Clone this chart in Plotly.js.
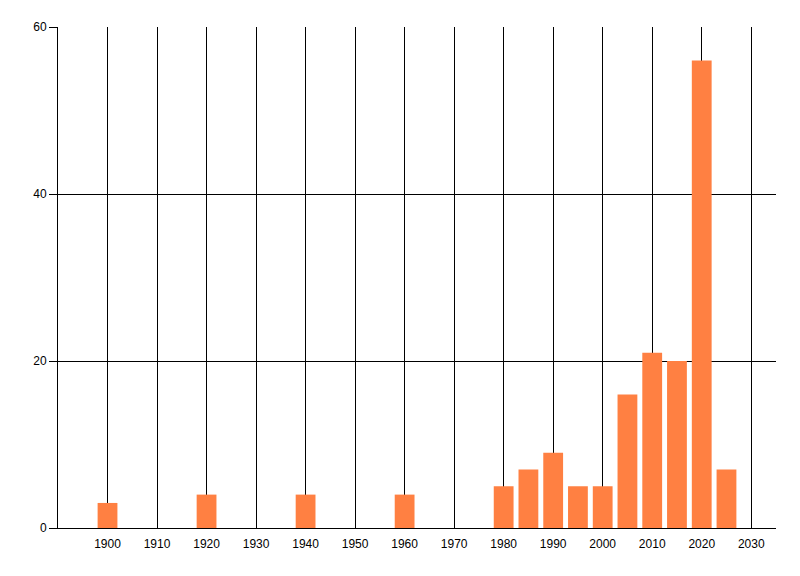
<!DOCTYPE html>
<html>
<head>
<meta charset="utf-8">
<script src="https://cdn.plot.ly/plotly-3.0.1.min.js"></script>
<style>
  body { margin: 0; background: #fff; }
  #plot { width: 800px; height: 576px; }
</style>
</head>
<body>
<div id="plot"></div>
<script>
// years and counts
var years = [1900, 1920, 1940, 1960, 1980, 1985, 1990, 1995, 2000, 2005, 2010, 2015, 2020, 2025];
var counts = [3, 4, 4, 4, 5, 7, 9, 5, 5, 16, 21, 20, 56, 7];
var yearTicks = [1900, 1910, 1920, 1930, 1940, 1950, 1960, 1970, 1980, 1990, 2000, 2010, 2020, 2030];

var barColor = '#ff8042';

var data = [{
  x: years,
  y: counts,
  type: 'bar',
  width: 4,
  marker: { color: barColor, line: { width: 0 } },
  hoverinfo: 'x+y'
}];

var tickFont = { family: 'Liberation Sans', size: 12, color: '#000' };

var layout = {
  width: 800,
  height: 576,
  showlegend: false,
  paper_bgcolor: '#fff',
  plot_bgcolor: '#fff',
  margin: { l: 58, r: 24, t: 27, b: 48 },
  xaxis: {
    range: [1890, 2035],
    tickmode: 'array',
    tickvals: yearTicks,
    ticktext: yearTicks.map(String),
    showgrid: true,
    gridcolor: '#000',
    gridwidth: 1,
    zeroline: false,
    showline: true,
    linecolor: '#000',
    linewidth: 1,
    ticks: '',
    ticklabelstandoff: 5,
    tickfont: tickFont
  },
  yaxis: {
    range: [0, 60],
    dtick: 20,
    showgrid: true,
    gridcolor: '#000',
    gridwidth: 1,
    zeroline: false,
    showline: true,
    linecolor: '#000',
    linewidth: 1,
    ticks: 'outside',
    ticklen: 8,
    tickcolor: '#000',
    tickwidth: 1,
    tickfont: tickFont
  }
};

Plotly.newPlot('plot', data, layout, { displayModeBar: false, staticPlot: true });
</script>
</body>
</html>
